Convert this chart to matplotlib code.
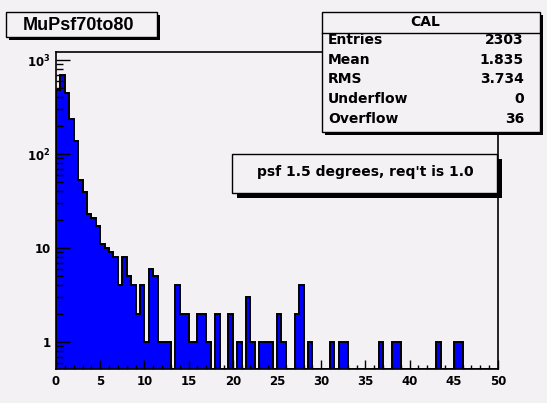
import numpy as np
import matplotlib
matplotlib.use("Agg")
import matplotlib.pyplot as plt
from matplotlib.patches import Rectangle
from matplotlib.lines import Line2D
from matplotlib.ticker import MultipleLocator, LogLocator, FuncFormatter, NullFormatter

plt.rcParams['font.family'] = ['DejaVu Sans']
plt.rcParams['font.weight'] = 'bold'

# histogram: 100 bins of 0.5 between 0 and 50
bin_edges = np.linspace(0, 50, 101)
counts = [480, 692, 443, 234, 139, 53, 39, 23, 21, 17,
          11, 10, 9, 8, 4, 8, 5, 4, 2, 4,
          1, 6, 5, 1, 1, 1, 0, 4, 2, 2,
          1, 1, 2, 2, 1, 0, 2, 0, 0, 2,
          0, 1, 0, 3, 1, 0, 1, 1, 1, 0,
          2, 1, 0, 0, 2, 4, 0, 1, 0, 0,
          0, 0, 1, 0, 1, 1, 0, 0, 0, 0,
          0, 0, 0, 1, 0, 0, 1, 1, 0, 0,
          0, 0, 0, 0, 0, 0, 1, 0, 0, 0,
          1, 1, 0, 0, 0, 0, 0, 0, 0, 0]

title = "MuPsf70to80"
stats_name = "CAL"
stats_labels = ["Entries", "Mean", "RMS", "Underflow", "Overflow"]
stats_values = ["2303", "1.835", "3.734", "0", "36"]
note = "psf 1.5 degrees, req't is 1.0"

bg = '#f4f1f4'
W, H = 547, 403

fig = plt.figure(figsize=(W / 100, H / 100), dpi=100, facecolor=bg)
ax = fig.add_axes([56 / W, 1 - 369 / H, (498 - 56) / W, (369 - 52) / H], facecolor=bg)

ymin, ymax = 0.516, 1217
vals = np.array(counts, dtype=float)
ax.stairs(np.where(vals > 0, vals, ymin), bin_edges, baseline=ymin, fill=True,
          facecolor='#0000ff', edgecolor='black', linewidth=1.4)

ax.set_yscale('log')
ax.set_xlim(0, 50)
ax.set_ylim(ymin, ymax)

ax.xaxis.set_major_locator(MultipleLocator(5))
ax.xaxis.set_minor_locator(MultipleLocator(1))
ax.yaxis.set_major_locator(LogLocator(base=10, numticks=10))
ax.yaxis.set_minor_locator(LogLocator(base=10, subs=np.arange(2, 10), numticks=20))
ax.yaxis.set_minor_formatter(NullFormatter())


def ylab(v, pos):
    if v < 5:
        return "1"
    if v < 50:
        return "10"
    return r"$\mathbf{10^{%d}}$" % round(np.log10(v))


ax.yaxis.set_major_formatter(FuncFormatter(ylab))
ax.tick_params(which='both', direction='in', top=False, right=False, width=1.0, labelsize=8.5, pad=4)
ax.tick_params(axis='x', which='major', length=6.5)
ax.tick_params(axis='x', which='minor', length=3.2)
ax.tick_params(axis='y', which='major', length=10)
ax.tick_params(axis='y', which='minor', length=5)
for lab in ax.get_xticklabels() + ax.get_yticklabels():
    lab.set_fontweight('bold')
for s in ax.spines.values():
    s.set_linewidth(1.2)


def fbox(x0, y0, x1, y1, shadow=3):
    fig.add_artist(Rectangle(((x0 + shadow) / W, 1 - (y1 + shadow) / H), (x1 - x0) / W, (y1 - y0) / H,
                             transform=fig.transFigure, facecolor='black', edgecolor='black', lw=0, zorder=5))
    fig.add_artist(Rectangle((x0 / W, 1 - y1 / H), (x1 - x0) / W, (y1 - y0) / H,
                             transform=fig.transFigure, facecolor=bg, edgecolor='black', lw=1.0, zorder=6))


def ftext(x, y, s, size, ha='center', family='DejaVu Sans'):
    fig.text(x / W, 1 - y / H, s, ha=ha, va='center', fontsize=size, fontweight='bold',
             family=family, zorder=7)


# title box
fbox(6, 12, 157, 37)
ftext(79, 25, title, 13, family='Liberation Sans')

# stats box
fbox(322, 12, 540, 132)
fig.add_artist(Line2D([322 / W, 540 / W], [1 - 33 / H, 1 - 33 / H], transform=fig.transFigure,
                      color='black', lw=1.0, zorder=7))
ftext(425, 22, stats_name, 10)
rows_y = [40, 60, 79, 99, 119]
for yy, lab, val in zip(rows_y, stats_labels, stats_values):
    ftext(328, yy, lab, 10, ha='left')
    ftext(524, yy, val, 10, ha='right')

# note box
fbox(232, 154, 497, 193, shadow=5)
ftext(365, 172, note, 10)

fig.savefig("out.png", dpi=100, facecolor=bg)
